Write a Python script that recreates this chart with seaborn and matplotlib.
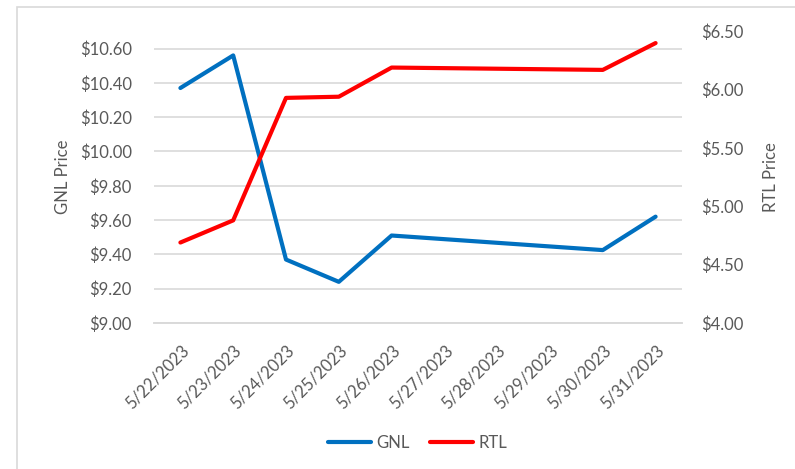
import numpy as np
import pandas as pd
import seaborn as sns
import matplotlib.pyplot as plt
from matplotlib.patches import Rectangle
from matplotlib.lines import Line2D

# --- Data ---
dates = ["5/22/2023", "5/23/2023", "5/24/2023", "5/25/2023", "5/26/2023",
         "5/27/2023", "5/28/2023", "5/29/2023", "5/30/2023", "5/31/2023"]
gnl_price = [10.37, 10.56, 9.37, 9.24, 9.51, np.nan, np.nan, np.nan, 9.425, 9.62]
rtl_price = [4.69, 4.88, 5.93, 5.94, 6.19, np.nan, np.nan, np.nan, 6.17, 6.40]

GNL_COLOR = "#0070C0"
RTL_COLOR = "#FF0000"
TEXT_COLOR = "#595959"
GRID_COLOR = "#D9D9D9"
FS = 12

sns.set_style("white")
plt.rcParams["font.family"] = ["Lato", "DejaVu Sans"]

df = pd.DataFrame({"pos": range(len(dates)), "date": dates,
                   "GNL": gnl_price, "RTL": rtl_price})

fig = plt.figure(figsize=(7.95, 4.69), dpi=100)
ax = fig.add_axes([154 / 795, 1 - 323 / 469, (682 - 154) / 795, (323 - 31.4) / 469])
ax2 = ax.twinx()

# outer chart frame (cropped in the original)
fig.patches.append(Rectangle((17 / 795, -0.1), 1.2, 1.1 - 7 / 469,
                             transform=fig.transFigure, fill=False,
                             edgecolor=GRID_COLOR, linewidth=1.2, zorder=0))

sns.lineplot(data=df.dropna(subset=["GNL"]), x="pos", y="GNL", ax=ax,
             color=GNL_COLOR, linewidth=3, zorder=3)
sns.lineplot(data=df.dropna(subset=["RTL"]), x="pos", y="RTL", ax=ax2,
             color=RTL_COLOR, linewidth=3, zorder=3)

# left axis
ax.set_ylim(9.0, 10.7)
ax.set_yticks(np.arange(9.0, 10.61, 0.2))
ax.set_yticklabels([f"${v:.2f}" for v in np.arange(9.0, 10.61, 0.2)])
ax.yaxis.grid(True, color=GRID_COLOR, linewidth=1.2)
ax.set_axisbelow(True)
ax.set_ylabel("GNL Price", color=TEXT_COLOR, fontsize=FS, labelpad=6)

# right axis
ax2.set_ylim(4.0, 6.5)
ax2.set_yticks(np.arange(4.0, 6.51, 0.5))
ax2.set_yticklabels([f"${v:.2f}" for v in np.arange(4.0, 6.51, 0.5)])
ax2.set_ylabel("RTL Price", color=TEXT_COLOR, fontsize=FS, labelpad=14)

# x axis: labels at centres, tick marks at category boundaries
ax.set_xlim(-0.5, len(dates) - 0.5)
ax.set_xticks(range(len(dates)))
ax.set_xticklabels(dates, rotation=45, ha="right", rotation_mode="anchor")
ax.set_xticks(np.arange(-0.5, len(dates), 1.0), minor=True)
ax.tick_params(axis="x", which="major", length=0, pad=14, labelsize=FS, labelcolor=TEXT_COLOR)
ax.tick_params(axis="x", which="minor", length=5, color=GRID_COLOR, width=1.2, direction="out")
ax.tick_params(axis="y", length=0, pad=16, labelsize=FS, labelcolor=TEXT_COLOR)
ax2.tick_params(axis="y", length=0, pad=14, labelsize=FS, labelcolor=TEXT_COLOR)
ax.set_xlabel("")

for a in (ax, ax2):
    for side in ("top", "left", "right"):
        a.spines[side].set_visible(False)
    a.spines["bottom"].set_color(GRID_COLOR)
    a.spines["bottom"].set_linewidth(1.2)

# legend at the bottom
handles = [Line2D([], [], color=GNL_COLOR, linewidth=3),
           Line2D([], [], color=RTL_COLOR, linewidth=3)]
fig.legend(handles, ["GNL", "RTL"], loc="center", bbox_to_anchor=(0.525, 1 - 443 / 469),
           ncol=2, frameon=False, fontsize=FS, labelcolor=TEXT_COLOR,
           handlelength=2.6, columnspacing=1.2, handletextpad=0.3)

fig.savefig("out.png", dpi=100, facecolor="white")
